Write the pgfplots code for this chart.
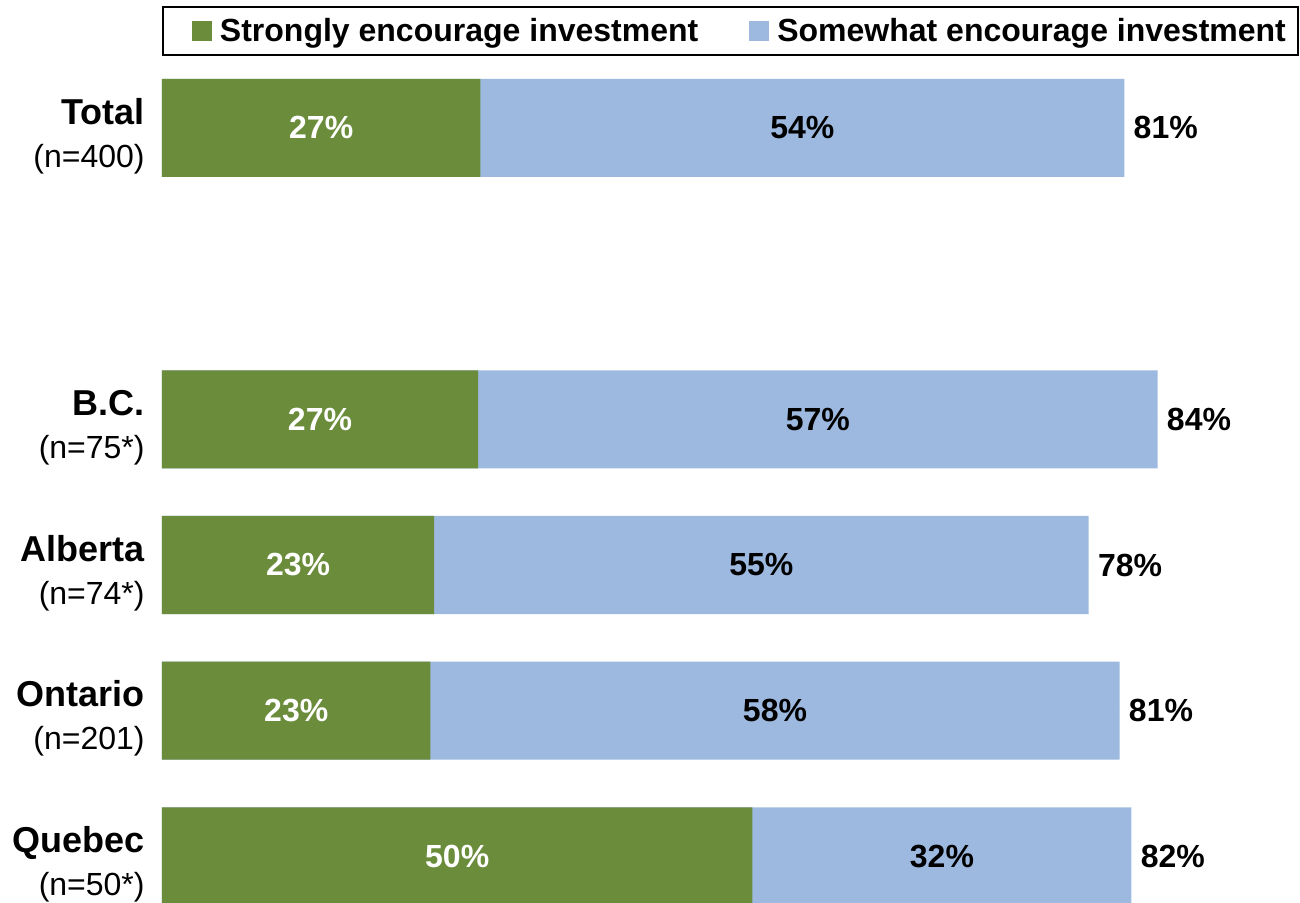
\documentclass[border=0pt]{standalone}
\usepackage{pgfplots}
\pgfplotsset{compat=1.18}
\usepackage{pgfplotstable}
\usepackage{fontspec}
\setmainfont{Liberation Sans}
\definecolor{cgreen}{RGB}{106,140,59}
\definecolor{cblue}{RGB}{157,185,224}

\pgfplotstableread{
y s t ls lw lt
0 26.8 81.0 27 54 81
2 26.6 83.8 27 57 84
3 22.9 78.0 23 55 78
4 22.6 80.6 23 58 81
5 49.7 81.6 50 32 82
}\data

\begin{document}
\begin{tikzpicture}
\path[use as bounding box] (0,0) rectangle (650pt,-451.5pt);
\begin{axis}[
 at={(81pt,-30pt)}, anchor=north west,
 scale only axis, width=569pt, height=421.5pt,
 xmin=0, xmax=95.79, ymin=-0.466, ymax=5.32, y dir=reverse,
 axis line style={draw=none}, tick style={draw=none},
 major tick length=0pt,
 xtick=\empty, ytick={0,2,3,4,5},
 yticklabels={
  {{\fontsize{18}{21.5}\selectfont\bfseries Total}\\(n=400)},
  {{\fontsize{18}{21.5}\selectfont\bfseries B.C.}\\(n=75*)},
  {{\fontsize{18}{21.5}\selectfont\bfseries Alberta}\\(n=74*)},
  {{\fontsize{18}{21.5}\selectfont\bfseries Ontario}\\(n=201)},
  {{\fontsize{18}{21.5}\selectfont\bfseries Quebec}\\(n=50*)}},
 yticklabel style={align=right, inner sep=0pt, xshift=-8.5pt, yshift=-4pt, font=\fontsize{16}{21.5}\selectfont},
 clip=false,
 legend columns=2,
 legend style={at={(0,1)}, anchor=south west, yshift=2pt, draw=black, line width=1pt,
   font=\fontsize{16}{19}\selectfont\bfseries, inner xsep=4pt, inner ysep=3.5pt,
   /tikz/every even column/.append style={column sep=13pt}},
 legend image code/.code={\path (0pt,0pt) (22.5pt,0pt); \fill[#1] (10.5pt,-5pt) rectangle (20.5pt,5pt);},
]
\addlegendimage{fill=cgreen, draw=none}
\addlegendentry{Strongly encourage investment}
\addlegendimage{fill=cblue, draw=none}
\addlegendentry{Somewhat encourage investment}

\addplot[xbar, bar width=49pt, bar shift=0pt, fill=cblue, draw=none, forget plot] table[x=t, y=y]{\data};
\addplot[xbar, bar width=49pt, bar shift=0pt, fill=cgreen, draw=none, forget plot] table[x=s, y=y]{\data};

\addplot[only marks, mark=*, mark size=0pt, forget plot, point meta=explicit symbolic,
  nodes near coords={\pgfplotspointmeta\%},
  every node near coord/.style={anchor=center, text=white, inner sep=0pt, font=\fontsize{16}{19}\selectfont\bfseries}]
  table[x expr=\thisrow{s}/2, y=y, meta=ls]{\data};
\addplot[only marks, mark=*, mark size=0pt, forget plot, point meta=explicit symbolic,
  nodes near coords={\pgfplotspointmeta\%},
  every node near coord/.style={anchor=center, text=black, inner sep=0pt, font=\fontsize{16}{19}\selectfont\bfseries}]
  table[x expr=(\thisrow{s}+\thisrow{t})/2, y=y, meta=lw]{\data};
\addplot[only marks, mark=*, mark size=0pt, forget plot, point meta=explicit symbolic,
  nodes near coords={\pgfplotspointmeta\%},
  every node near coord/.style={anchor=west, xshift=4.5pt, text=black, inner sep=0pt, font=\fontsize{16}{19}\selectfont\bfseries}]
  table[x=t, y=y, meta=lt]{\data};
\end{axis}
\end{tikzpicture}
\end{document}
